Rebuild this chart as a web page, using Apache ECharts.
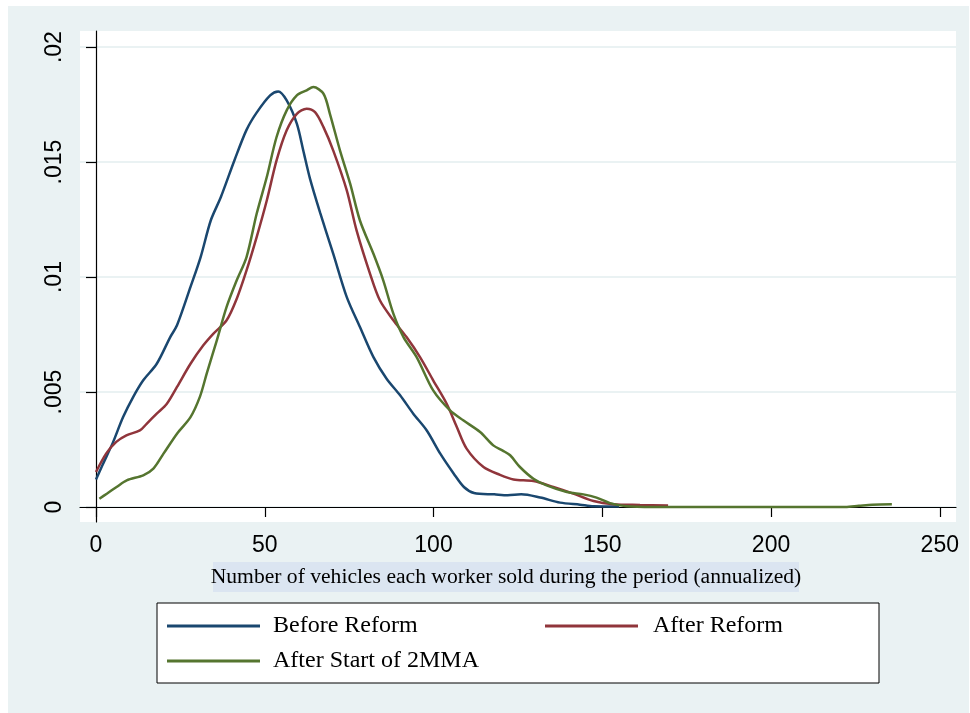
<!DOCTYPE html>
<html>
<head>
<meta charset="utf-8">
<script src="https://cdn.jsdelivr.net/npm/echarts@6/dist/echarts.min.js"></script>
<style>
html,body{margin:0;padding:0;background:#fff;}
#c{width:970px;height:713px;}
</style>
</head>
<body>
<div id="c"></div>
<script>
// ---- data ----
const seriesNames = ['Before Reform', 'After Reform', 'After Start of 2MMA'];

const xBefore = [0,2,5,8,11,14,18,22,24,28,31,34,37,41,44.6,47.6,51.6,54,56.5,59.5,61.4,63.4,66.4,70.3,74.3,78.2,82.2,86.1,90.1,94,98,102,106,109,112,118,122,126,131.6,137.5,143.4,147.4,155];
const yBefore = [0.00120,0.00185,0.00280,0.00390,0.00478,0.00551,0.00623,0.00739,0.00790,0.00957,0.01087,0.01246,0.01348,0.01507,0.01640,0.01715,0.01790,0.01807,0.01768,0.01667,0.01551,0.01428,0.01280,0.01101,0.00913,0.00783,0.00652,0.00558,0.00486,0.00406,0.00333,0.00232,0.00145,0.00087,0.00061,0.00055,0.00051,0.00055,0.00041,0.00019,0.00010,0.00003,0.00002];

const xAfter = [0,3,6,9,13,15,18,21,24,28,31.8,34.8,38.7,41.7,44.6,47.6,50.6,53.5,56.5,59.5,62.4,64.9,67.4,70.3,74.3,77.2,81.2,84.1,88.1,92,96,99.9,103.9,106.9,109.8,114.8,119.7,123.7,129.6,135.5,141.4,147.4,153.3,161.2,169.5];
const yAfter = [0.00152,0.00232,0.00283,0.00312,0.00333,0.00362,0.00406,0.00449,0.00522,0.00623,0.00703,0.00754,0.00812,0.00906,0.01029,0.01174,0.01333,0.01507,0.01638,0.01710,0.01732,0.01717,0.01652,0.01550,0.01377,0.01203,0.01014,0.00899,0.00812,0.00739,0.00652,0.00551,0.00449,0.00348,0.00254,0.00174,0.00140,0.00120,0.00113,0.00087,0.00058,0.00026,0.00012,0.00009,0.00007];

const x2MMA = [1,3.2,6.1,9.1,14,17,20,24,28,30.8,32.8,35.8,38.7,41.7,44.6,47.6,50.6,53.5,56.5,59.5,62.4,64.4,67.4,69.3,72.3,75.3,78.2,82.2,85.1,88.1,91.1,95,99.9,104.9,108.8,113.8,117.7,120.5,122.7,125.6,129.6,133.5,139.5,144.4,148.3,152.3,157.2,165,190,222,226,230,235.8];
const y2MMA = [0.00036,0.00058,0.00087,0.00116,0.00138,0.00167,0.00232,0.00319,0.00391,0.00480,0.00580,0.00725,0.00870,0.00986,0.01087,0.01275,0.01435,0.01609,0.01725,0.01790,0.01812,0.01826,0.01797,0.01710,0.01550,0.01406,0.01246,0.01101,0.00986,0.00841,0.00739,0.00652,0.00507,0.00420,0.00377,0.00326,0.00268,0.00245,0.00225,0.00174,0.00123,0.00094,0.00065,0.00055,0.00041,0.00017,0.00003,0,0,0,0.00005,0.00010,0.00012];

const xTicks = [0, 50, 100, 150, 200, 250];
const yTicks = [0, 0.005, 0.01, 0.015, 0.02];
const yTickLabels = ['0', '.005', '.01', '.015', '.02'];
const xTitle = 'Number of vehicles each worker sold during the period (annualized)';

const colors = ['#1a476f', '#90353b', '#55752f'];

function zip(xs, ys) { return xs.map((x, i) => [x, ys[i]]); }

const chart = echarts.init(document.getElementById('c'), null, {renderer: 'canvas'});

const sansFont = '"Liberation Sans", Arial, sans-serif';
const serifFont = '"Liberation Serif", "Times New Roman", serif';

const option = {
  animation: false,
  color: colors,
  grid: {
    left: 80, top: 31, width: 876, height: 491,
    show: true, backgroundColor: '#ffffff', borderWidth: 0
  },
  xAxis: {
    type: 'value',
    min: -4.74, max: 254.8,
    axisLine: {show: true, lineStyle: {color: '#000', width: 1.2}},
    axisTick: {show: true, length: 10, lineStyle: {color: '#000', width: 1.2}, customValues: xTicks},
    axisLabel: {
      customValues: xTicks, margin: 12,
      fontFamily: sansFont, fontSize: 23, color: '#000'
    },
    splitLine: {show: false}
  },
  yAxis: {
    type: 'value',
    min: -0.000652, max: 0.0207,
    axisLine: {show: true, lineStyle: {color: '#000', width: 1.2}},
    axisTick: {show: true, length: 10, lineStyle: {color: '#000', width: 1.2}, customValues: yTicks},
    axisLabel: {
      customValues: yTicks, rotate: 90, margin: 14,
      fontFamily: sansFont, fontSize: 23, color: '#000',
      formatter: function (v) {
        let best = 0;
        for (let i = 0; i < yTicks.length; i++) {
          if (Math.abs(yTicks[i] - v) < Math.abs(yTicks[best] - v)) best = i;
        }
        return yTickLabels[best];
      }
    },
    splitLine: {show: true, lineStyle: {color: '#eaf2f3', width: 2}}
  },
  legend: [
    {
      left: 167, top: 614, orient: 'vertical', itemGap: 11, padding: 0,
      data: [seriesNames[0], seriesNames[2]],
      icon: 'rect', itemWidth: 93, itemHeight: 3,
      textStyle: {fontFamily: serifFont, fontSize: 24, color: '#000', padding: [0, 0, 0, 8]},
      selectedMode: false
    },
    {
      left: 545, top: 614, orient: 'vertical', padding: 0,
      data: [seriesNames[1]],
      icon: 'rect', itemWidth: 93, itemHeight: 3,
      textStyle: {fontFamily: serifFont, fontSize: 24, color: '#000', padding: [0, 0, 0, 10]},
      selectedMode: false
    }
  ],
  graphic: [
    {type: 'rect', z: -10, silent: true, shape: {x: 8, y: 6, width: 961, height: 707}, style: {fill: '#eaf2f3'}},
    {type: 'rect', z: 1, silent: true, shape: {x: 213, y: 562, width: 586, height: 30}, style: {fill: '#dbe5f1'}},
    {type: 'text', z: 2, silent: true, x: 506, y: 577,
      style: {text: xTitle, font: '21.6px ' + serifFont, fill: '#000', align: 'center', verticalAlign: 'middle'}},
    {type: 'rect', z: 1, silent: true, shape: {x: 157, y: 603, width: 722, height: 80},
      style: {fill: '#ffffff', stroke: '#000', lineWidth: 1}}
  ],
  series: [
    {name: seriesNames[0], type: 'line', data: zip(xBefore, yBefore), showSymbol: false, smooth: 0.3,
      lineStyle: {width: 2.5, color: colors[0]}, z: 3},
    {name: seriesNames[1], type: 'line', data: zip(xAfter, yAfter), showSymbol: false, smooth: 0.3,
      lineStyle: {width: 2.5, color: colors[1]}, z: 3},
    {name: seriesNames[2], type: 'line', data: zip(x2MMA, y2MMA), showSymbol: false, smooth: 0.3,
      lineStyle: {width: 2.5, color: colors[2]}, z: 3}
  ]
};
chart.setOption(option);
</script>
</body>
</html>
